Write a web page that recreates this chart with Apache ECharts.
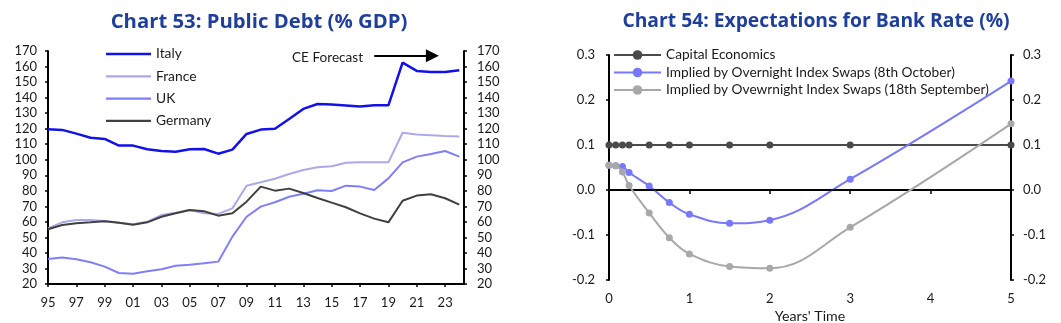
<!DOCTYPE html>
<html>
<head>
<meta charset="utf-8">
<script src="https://cdn.jsdelivr.net/npm/echarts@6/dist/echarts.min.js"></script>
<style>
html,body{margin:0;padding:0;background:#fff;}
#c{width:1061px;height:323px;}
</style>
</head>
<body>
<div id="c"></div>
<script>
// ---------- Chart 53 data ----------
const years = [1995,1996,1997,1998,1999,2000,2001,2002,2003,2004,2005,2006,2007,2008,2009,2010,2011,2012,2013,2014,2015,2016,2017,2018,2019,2020,2021,2022,2023,2024];
const italy   = [119.6,119.2,116.8,114.2,113.4,109.1,109.1,106.7,105.6,105.2,106.7,106.9,103.9,106.5,116.6,119.4,120.0,126.2,132.7,135.9,135.6,134.9,134.2,135.0,135.0,162.5,157.2,156.5,156.5,157.6];
const france  = [55.8,59.7,61.2,61.2,60.6,59.5,58.4,60.1,64.4,65.9,67.6,65.5,65.1,68.7,83.3,85.5,87.8,90.8,93.4,95.1,95.8,98.1,98.3,98.3,98.3,117.4,116.2,115.8,115.3,114.9];
const uk      = [36.1,37.0,35.9,34.0,31.2,27.1,26.6,28.2,29.5,31.8,32.4,33.3,34.4,50.5,63.3,69.8,72.6,76.2,78.1,80.3,79.9,83.3,82.7,80.5,88.0,98.3,102.0,103.7,105.6,102.0];
const germany = [55.2,58.0,59.1,59.7,60.4,59.5,58.2,59.7,63.3,65.5,67.6,66.8,64.0,65.5,73.0,82.7,80.1,81.4,78.6,75.4,72.4,69.4,65.5,62.1,59.7,73.6,76.9,77.8,75.2,71.1];
const debtTicks = {min: 20, max: 170, interval: 10};
const baseYear = 1995;
const lastYearEdge = 2024.33;
const forecastStart = 2019.75;
const arrowFrom = [2018.0, 167];
const arrowTo = [2022.1, 167];

// ---------- Chart 54 data ----------
const horizon = [0, 0.083, 0.167, 0.25, 0.5, 0.75, 1, 1.5, 2, 3, 5];
const capitalEconomics = [0.1,0.1,0.1,0.1,0.1,0.1,0.1,0.1,0.1,0.1,0.1];
const oisOct = [0.055,0.054,0.052,0.039,0.009,-0.028,-0.054,-0.074,-0.067,0.024,0.242];
const oisSep = [0.055,0.054,0.040,0.010,-0.051,-0.106,-0.142,-0.170,-0.174,-0.083,0.147];
const rateTicks = {min: -0.2, max: 0.3, interval: 0.1};

const FONT = 'Lato';
const TXT = '#1a1a1a';
const TITLE = '#1f3f9c';
const pair = (xs, ys, f) => xs.map((x, i) => [f ? f(x) : x, ys[i]]);
const yr = y => y - baseYear;

const axisBase = {
  axisLine: {show: true, lineStyle: {color: '#000', width: 2}},
  axisTick: {show: true, length: 3, lineStyle: {color: '#000', width: 1.5}},
  splitLine: {show: false},
  axisLabel: {color: TXT, fontFamily: FONT, fontSize: 13}
};

const chart = echarts.init(document.getElementById('c'), null, {renderer: 'canvas'});
chart.setOption({
  animation: false,
  backgroundColor: '#fff',
  title: [
    {text: 'Chart 53: Public Debt (% GDP)', left: 254, top: 7, textAlign: 'center',
     textStyle: {color: TITLE, fontFamily: 'Open Sans', fontSize: 20.3, fontWeight: 'bold'}},
    {text: 'Chart 54: Expectations for Bank Rate (%)', left: 811, top: 7, textAlign: 'center',
     textStyle: {color: TITLE, fontFamily: 'Open Sans', fontSize: 19.3, fontWeight: 'bold'}}
  ],
  legend: [
    {data: ['Italy', 'France', 'UK', 'Germany'], orient: 'vertical', left: 106, top: 47, padding: 0,
     icon: 'rect', itemWidth: 45, itemHeight: 2.3, itemGap: 8.3,
     textStyle: {color: TXT, fontFamily: FONT, fontSize: 13.8, lineHeight: 14}},
    {data: ['Capital Economics', 'Implied by Overnight Index Swaps (8th October)', 'Implied by Ovewrnight Index Swaps (18th September)'],
     orient: 'vertical', left: 613, top: 48, padding: 0,
     itemWidth: 47, itemHeight: 12, itemGap: 3.5,
     textStyle: {color: TXT, fontFamily: FONT, fontSize: 13.7, lineHeight: 12}}
  ],
  grid: [
    {left: 48, right: 597, top: 51, bottom: 39, outerBoundsMode: 'none', containLabel: false},
    {left: 609, right: 50, top: 55, bottom: 43, outerBoundsMode: 'none', containLabel: false}
  ],
  xAxis: [
    Object.assign({}, axisBase, {type: 'value', gridIndex: 0, min: 0, max: yr(lastYearEdge), interval: 2,
      axisLabel: Object.assign({}, axisBase.axisLabel, {margin: 12, showMaxLabel: false,
        formatter: v => (Number.isInteger(v) && v % 2 === 0) ? String((baseYear + v) % 100).padStart(2, '0') : ''})}),
    Object.assign({}, axisBase, {type: 'value', gridIndex: 1, min: 0, max: 5, interval: 1,
      axisTick: {show: true, inside: false, length: 4, lineStyle: {color: '#000', width: 1.5}},
      axisLabel: Object.assign({}, axisBase.axisLabel, {margin: 12}),
      name: "Years' Time", nameLocation: 'middle', nameGap: 25,
      nameTextStyle: {color: TXT, fontFamily: FONT, fontSize: 14.2}})
  ],
  yAxis: [
    Object.assign({}, axisBase, {type: 'value', gridIndex: 0, position: 'left', min: debtTicks.min, max: debtTicks.max, interval: debtTicks.interval,
      axisLabel: Object.assign({}, axisBase.axisLabel, {margin: 11})}),
    Object.assign({}, axisBase, {type: 'value', gridIndex: 0, position: 'right', min: debtTicks.min, max: debtTicks.max, interval: debtTicks.interval,
      axisLabel: Object.assign({}, axisBase.axisLabel, {margin: 13})}),
    Object.assign({}, axisBase, {type: 'value', gridIndex: 1, position: 'left', min: rateTicks.min, max: rateTicks.max, interval: rateTicks.interval,
      axisLabel: Object.assign({}, axisBase.axisLabel, {margin: 14, formatter: v => v.toFixed(1)})}),
    Object.assign({}, axisBase, {type: 'value', gridIndex: 1, position: 'right', min: rateTicks.min, max: rateTicks.max, interval: rateTicks.interval,
      axisLabel: Object.assign({}, axisBase.axisLabel, {margin: 12, formatter: v => v.toFixed(1)})})
  ],
  graphic: [
    {type: 'text', x: 292, y: 58, style: {text: 'CE Forecast', fill: TXT, font: '13.6px Lato', textAlign: 'left', textVerticalAlign: 'middle'}}
  ],
  series: [
    {name: 'Italy', type: 'line', xAxisIndex: 0, yAxisIndex: 0, data: pair(years, italy, yr), symbol: 'none',
     lineStyle: {color: '#1212e8', width: 2.5}, itemStyle: {color: '#1212e8'},
     markLine: {silent: true, animation: false, symbol: ['none', 'none'],
       data: [
         [{coord: [yr(forecastStart), debtTicks.min]}, {coord: [yr(forecastStart), debtTicks.max + 1.5]}]
       ],
       lineStyle: {color: '#000', width: 2.5, type: [8, 5]}, label: {show: false}}},
    {name: 'France', type: 'line', xAxisIndex: 0, yAxisIndex: 0, data: pair(years, france, yr), symbol: 'none',
     lineStyle: {color: '#aaaae6', width: 2}, itemStyle: {color: '#aaaae6'}},
    {name: 'UK', type: 'line', xAxisIndex: 0, yAxisIndex: 0, data: pair(years, uk, yr), symbol: 'none',
     lineStyle: {color: '#7f7ffa', width: 2}, itemStyle: {color: '#7f7ffa'}},
    {name: 'Germany', type: 'line', xAxisIndex: 0, yAxisIndex: 0, data: pair(years, germany, yr), symbol: 'none',
     lineStyle: {color: '#404040', width: 2}, itemStyle: {color: '#404040'},
     markLine: {silent: true, animation: false, symbol: ['none', 'triangle'], symbolSize: 13,
       data: [[{coord: [yr(arrowFrom[0]), arrowFrom[1]]}, {coord: [yr(arrowTo[0]), arrowTo[1]]}]],
       lineStyle: {color: '#000', width: 1.8, type: 'solid'}, itemStyle: {color: '#000'}, label: {show: false}}},

    {name: 'Capital Economics', type: 'line', xAxisIndex: 1, yAxisIndex: 2, data: pair(horizon, capitalEconomics),
     symbol: 'circle', symbolSize: 7, lineStyle: {color: '#4a4a4a', width: 2}, itemStyle: {color: '#4a4a4a'}, z: 3,
     markLine: {silent: true, animation: false, symbol: ['none', 'none'],
       data: [{yAxis: 0}], lineStyle: {color: '#000', width: 1.5, type: 'solid'}, label: {show: false}}},
    {name: 'Implied by Overnight Index Swaps (8th October)', type: 'line', xAxisIndex: 1, yAxisIndex: 2, data: pair(horizon, oisOct),
     symbol: 'circle', symbolSize: 7, smooth: 0.4, lineStyle: {color: '#7878fa', width: 2}, itemStyle: {color: '#7878fa'}, z: 4},
    {name: 'Implied by Ovewrnight Index Swaps (18th September)', type: 'line', xAxisIndex: 1, yAxisIndex: 2, data: pair(horizon, oisSep),
     symbol: 'circle', symbolSize: 7, smooth: 0.4, lineStyle: {color: '#a8a8a8', width: 2}, itemStyle: {color: '#a8a8a8'}, z: 5}
  ]
});
</script>
</body>
</html>
